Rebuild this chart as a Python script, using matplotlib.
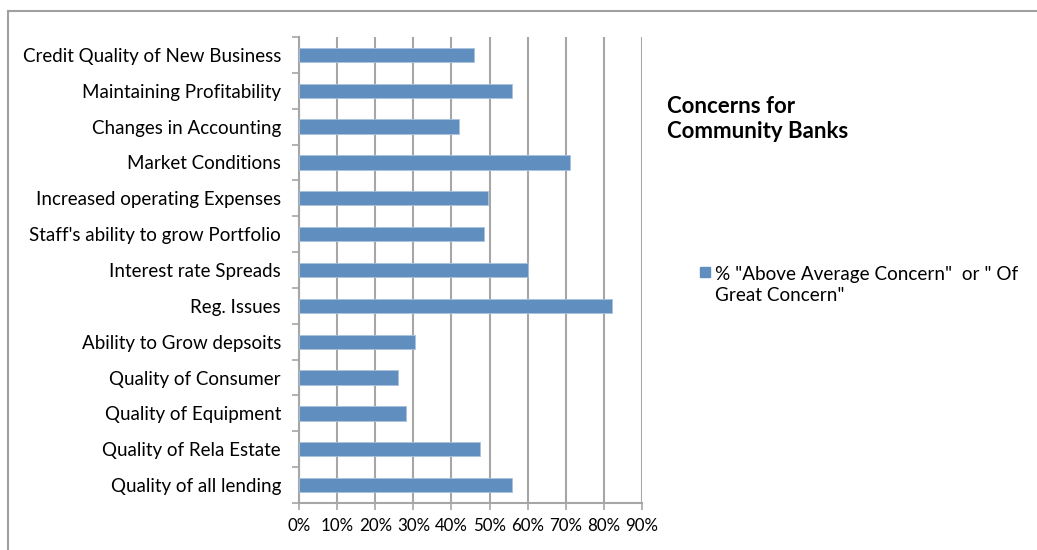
import matplotlib.pyplot as plt
from matplotlib.patches import Rectangle
from matplotlib.lines import Line2D

categories = [
    "Credit Quality of New Business",
    "Maintaining Profitability",
    "Changes in Accounting",
    "Market Conditions",
    "Increased operating Expenses",
    "Staff's ability to grow Portfolio",
    "Interest rate Spreads",
    "Reg. Issues",
    "Ability to Grow depsoits",
    "Quality of Consumer",
    "Quality of Equipment",
    "Quality of Rela Estate",
    "Quality of all lending",
]
values = [0.46, 0.56, 0.42, 0.71, 0.495, 0.485, 0.60, 0.82, 0.305, 0.26, 0.28, 0.475, 0.56]
xticks = [0.0, 0.1, 0.2, 0.3, 0.4, 0.5, 0.6, 0.7, 0.8, 0.9]
xtick_labels = ["0%", "10%", "20%", "30%", "40%", "50%", "60%", "70%", "80%", "90%"]

plt.rcParams['font.family'] = ['Lato', 'DejaVu Sans']
bar_color = '#5f8ebf'
grid_color = '#a6a6a6'

fig = plt.figure(figsize=(10.37, 5.5), dpi=100)
ax = fig.add_axes([299 / 1037, 1 - 503 / 550, 343 / 1037, 466 / 550])

n = len(categories)
pos = list(range(n))
ax.barh(pos, values, height=0.4, color=bar_color, edgecolor='#a9c2df', linewidth=0.6, zorder=3)

ax.set_xlim(0, 0.9)
ax.set_ylim(n - 0.5, -0.5)
ax.set_xticks(xticks)
ax.set_xticklabels(xtick_labels, fontsize=12.2)
ax.xaxis.grid(True, color=grid_color, linewidth=1.5, zorder=0)

ax.set_yticks([p - 0.5 for p in range(n + 1)])
ax.set_yticklabels([])
ax.set_yticks(pos, minor=True)
ax.set_yticklabels(categories, minor=True, fontsize=13.5)
ax.tick_params(axis='y', which='minor', length=0, pad=13)
ax.tick_params(axis='y', which='major', length=5, color=grid_color, width=1.2)
ax.tick_params(axis='x', length=5, color=grid_color, width=1.2, pad=6)

for s in ['top', 'right']:
    ax.spines[s].set_visible(False)
for s in ['left', 'bottom']:
    ax.spines[s].set_color(grid_color)
    ax.spines[s].set_linewidth(1.5)

# chart border (top and left visible)
fig.add_artist(Line2D([8 / 1037, 1], [1 - 11 / 550, 1 - 11 / 550], color='#a0a0a0', linewidth=1.5))
fig.add_artist(Line2D([8 / 1037, 8 / 1037], [0, 1 - 11 / 550], color='#a0a0a0', linewidth=1.5))

fig.text(667 / 1037, 1 - 119 / 550, "Concerns for\nCommunity Banks", fontsize=16, fontweight='bold',
         va='center', ha='left', linespacing=1.25)

fig.add_artist(Rectangle((700 / 1037, 1 - 277 / 550), 10 / 1037, 10 / 550, color=bar_color,
                         transform=fig.transFigure))
fig.text(715 / 1037, 1 - 285 / 550, '% "Above Average Concern"  or " Of\nGreat Concern"', fontsize=13.6,
         va='center', ha='left', linespacing=1.35)

fig.savefig('out.png', dpi=100)
